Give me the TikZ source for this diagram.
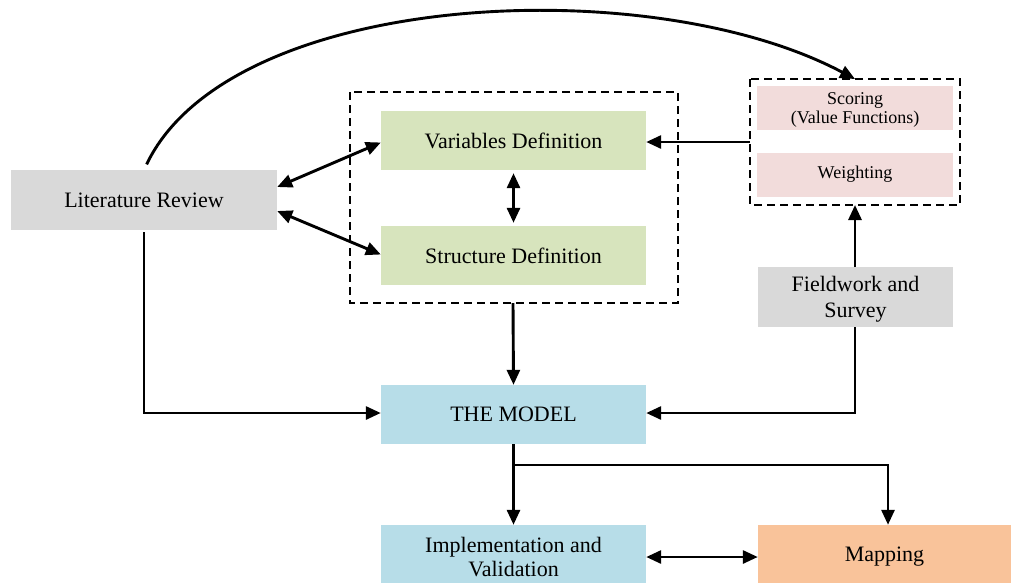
\documentclass[tikz,border=0pt]{standalone}
\usepackage{fontspec}
\setmainfont{Liberation Serif}
\usetikzlibrary{arrows.meta}
\definecolor{greybox}{HTML}{D9D9D9}
\definecolor{greenbox}{HTML}{D7E4BD}
\definecolor{pinkbox}{HTML}{F2DCDB}
\definecolor{bluebox}{HTML}{B7DDE8}
\definecolor{orangebox}{HTML}{F9C39A}
\tikzset{
  block/.style={rectangle, inner sep=0pt, align=center, minimum width=265pt, minimum height=59pt,
    font=\fontsize{22}{26}\selectfont},
  small/.style={rectangle, inner sep=0pt, align=center, minimum width=196pt, minimum height=44pt, fill=pinkbox,
    font=\fontsize{18}{19.5}\selectfont},
  frame/.style={draw=black, line width=1.5pt, dash pattern=on 8pt off 5pt},
  conn/.style={line width=2.9pt, -{Triangle[length=15pt,width=13pt]}},
  both/.style={line width=2.9pt, {Triangle[length=15pt,width=13pt]}-{Triangle[length=15pt,width=13pt]}},
}
\begin{document}
\begin{tikzpicture}[x=1pt, y=-1pt]
  \clip (0,0) rectangle (1011,582);
  \fill[white] (0,0) rectangle (1011,582);

  % group frames
  \draw[frame] (350,92) rectangle (678,303);
  \draw[frame] (750,79) rectangle (960,205);
  \coordinate (fA-s) at (513,303);
  \coordinate (fB-n) at (855,79);
  \coordinate (fB-s) at (855,205);
  \coordinate (fB-w) at (750,142);

  % blocks
  \node[block, fill=greybox, minimum width=266pt, minimum height=60pt] (lit) at (144,200) {Literature Review};
  \node[block, fill=greenbox] (var) at (513.5,140.5) {Variables Definition};
  \node[block, fill=greenbox] (str) at (513.5,255.5) {Structure Definition};
  \fill[pinkbox] (757,86) rectangle (953,130);
  \node[align=center, inner sep=0pt, font=\fontsize{18}{19.5}\selectfont] (score) at (855,110) {Scoring\\(Value Functions)};
  \node[small] (weight) at (855,174.5) {\raisebox{-1.5pt}{Weighting}};
  \fill[greybox] (758,267) rectangle (953,327);
  \node[align=center, inner sep=0pt, font=\fontsize{22}{26}\selectfont] (field) at (855.5,299.5) {Fieldwork and\\Survey};
  \coordinate (field-n) at (855,267);
  \coordinate (field-s) at (855,327);
  \node[block, fill=bluebox] (model) at (513.5,414.5) {THE MODEL};
  \node[block, fill=bluebox, minimum height=64pt, font=\fontsize{22}{24}\selectfont] (impl) at (513.5,557) {Implementation and\\Validation};
  \node[block, fill=orangebox, minimum width=253pt, minimum height=64pt] (map) at (884.5,557) {Mapping};

  % connectors
  \draw[conn, shorten <=6pt] (lit.north) .. controls (230,-10) and (650,-30) .. (fB-n);
  \draw[both] ([yshift=13pt]lit.east) -- ([yshift=-2pt]var.west);
  \draw[both] ([yshift=-11pt]lit.east) -- ([yshift=1pt]str.west);
  \draw[both] ([yshift=-3pt]var.south) -- ([yshift=3pt]str.north);
  \draw[conn] (fB-w) -- ([yshift=-1.5pt]var.east);
  \draw[conn] (field-n) -- (fB-s);
  \draw[conn] (field-s) |- ([yshift=1.5pt]model.east);
  \draw[conn, shorten <=2pt] (lit.south) |- ([yshift=1.5pt]model.west);
  \draw[conn] (fA-s) -- (model.north);
  \draw[conn] (model.south) -- (impl.north);
  \coordinate (split) at (513,465);
  \draw[conn] (split) -| ([xshift=3.5pt]map.north);
  \draw[both] (impl.east) -- (map.west);
\end{tikzpicture}
\end{document}
